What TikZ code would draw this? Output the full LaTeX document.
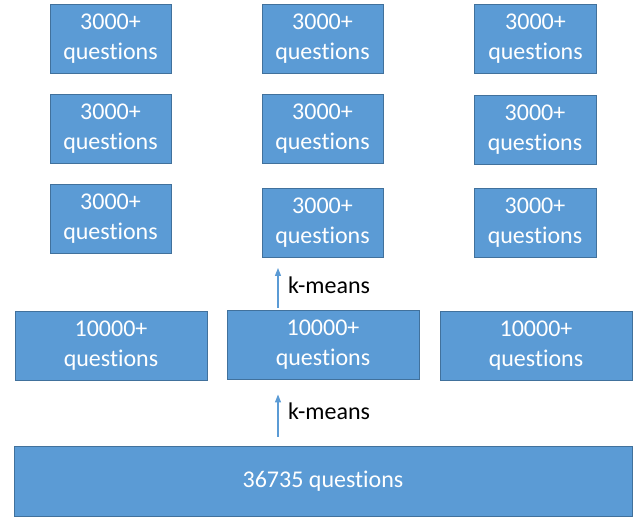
\documentclass[tikz,border=0pt]{standalone}
\usepackage{fontspec}
\setmainfont{Carlito}[Ligatures=NoCommon]
\usepackage{tikz}
\usetikzlibrary{arrows.meta}
\definecolor{qblue}{HTML}{5B9BD5}
\definecolor{qedge}{HTML}{41719C}

\begin{document}
\begin{tikzpicture}[x=1pt,y=-1pt,
        qbox/.style={draw=qedge, line width=0.9pt, fill=qblue, text=white,
            align=center, inner sep=0pt, font=\fontsize{24}{30}\selectfont},
        small/.style={qbox, minimum width=121pt, minimum height=69pt},
        mid/.style={qbox, minimum width=192pt, minimum height=69pt},
        karrow/.style={qblue, line width=1.2pt, -{Triangle[width=6pt,length=8pt]}},
        klabel/.style={font=\fontsize{24}{30}\selectfont, inner sep=0pt}]
        \useasboundingbox (0,0) rectangle (636,516);
        % top three rows of clusters
        \node[small] (c11) at (110.5,38.5) {3000+\\questions};
        \node[small] (c12) at (322.5,38.5) {3000+\\questions};
        \node[small, minimum width=122pt] (c13) at (535.5,38.5) {3000+\\questions};
        \node[small] (c21) at (110.5,129) {3000+\\questions};
        \node[small] (c22) at (322.5,129) {3000+\\questions};
        \node[small, minimum width=122pt] (c23) at (535,130) {3000+\\questions};
        \node[small] (c31) at (110.5,219) {3000+\\questions};
        \node[small] (c32) at (322.5,223) {3000+\\questions};
        \node[small, minimum width=122pt] (c33) at (535,223) {3000+\\questions};
        % middle row
        \node[mid] (m1) at (111,345.5) {10000+\\questions};
        \node[mid] (m2) at (323,344.5) {10000+\\questions};
        \node[mid] (m3) at (536,345.5) {10000+\\questions};
        % all questions
        \node[qbox, minimum width=618pt, minimum height=70pt] (big) at (323,481) {36735 questions};
        \coordinate (ax) at (278,0);
        \draw[karrow, shorten <=9pt, shorten >=15pt] (big.north -| ax) -- (m2.south -| ax);
        \draw[karrow, shorten <=2pt, shorten >=10pt] (m2.north -| ax) -- (c32.south -| ax);
        \node[klabel] (k1) at (329,411) {k-means};
        \node[klabel] (k2) at (329,285) {k-means};
    \end{tikzpicture}
\end{document}
